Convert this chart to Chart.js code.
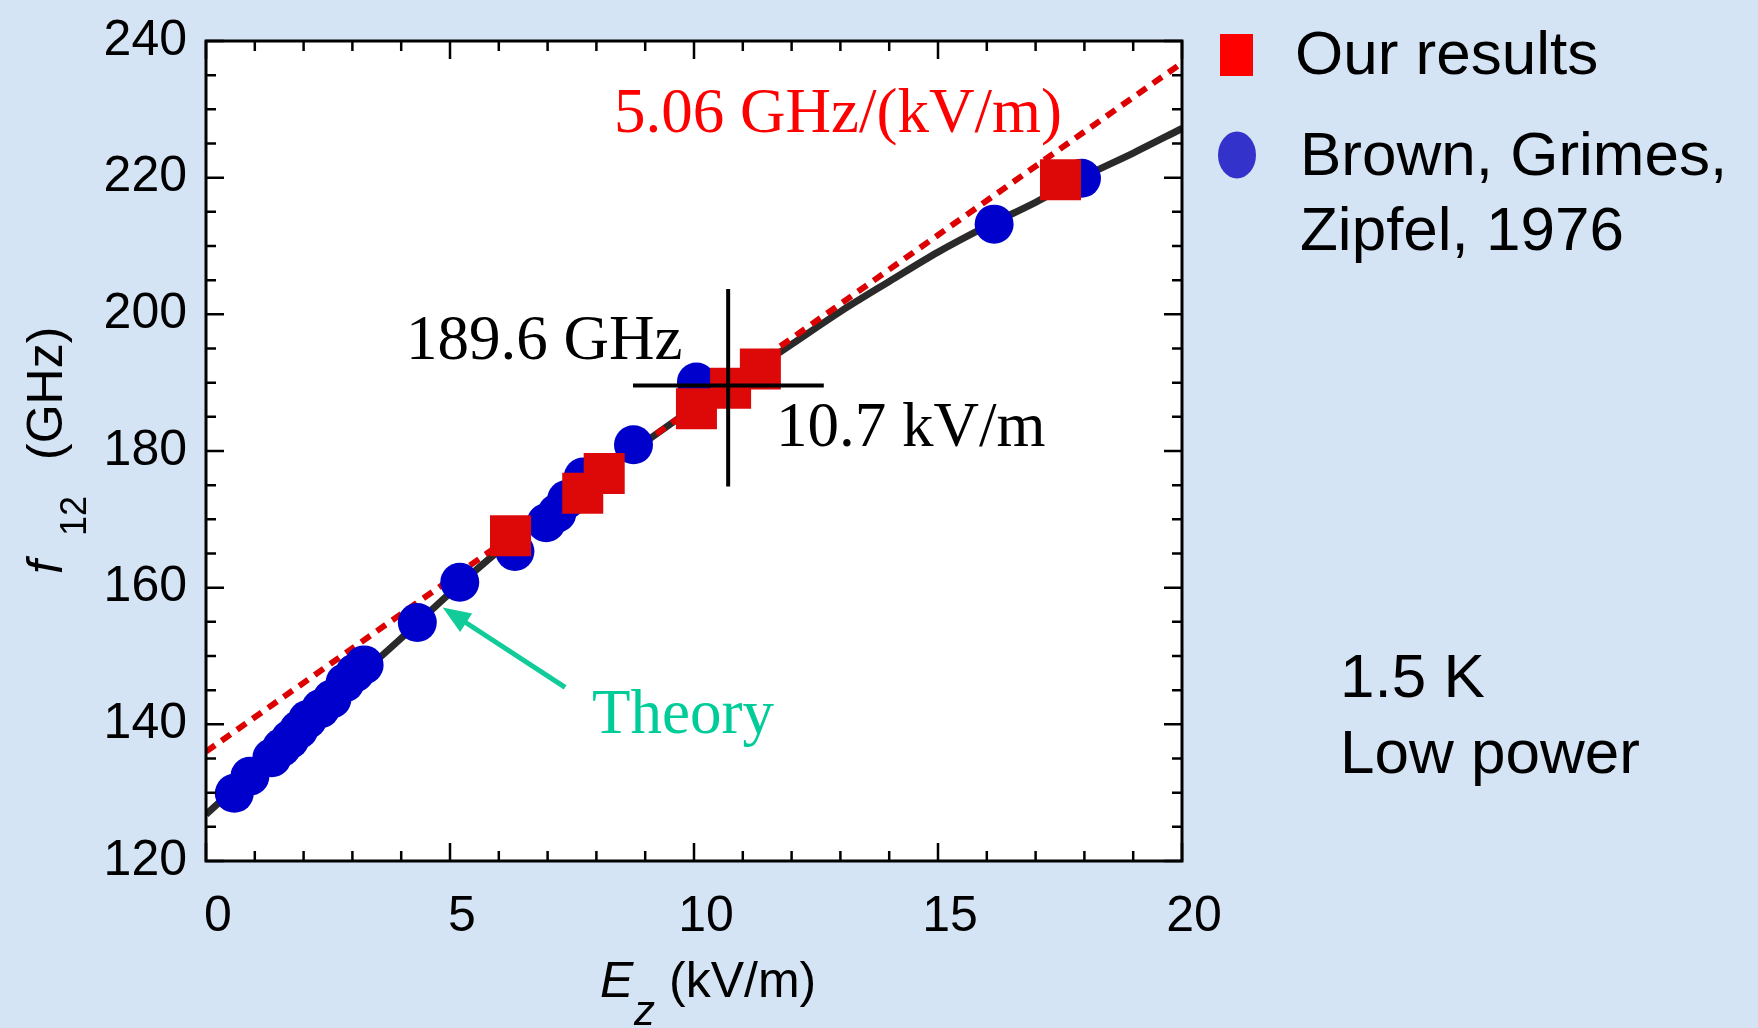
<!DOCTYPE html>
<html>
<head>
<meta charset="utf-8">
<script src="https://cdn.jsdelivr.net/npm/chart.js@4.4.1/dist/chart.umd.min.js"></script>
<style>
  html, body { margin: 0; padding: 0; background: #d5e4f5; }
  #wrap { width: 1758px; height: 1028px; position: relative; }
</style>
</head>
<body>
<div id="wrap"><canvas id="chart"></canvas></div>
<script>
// theory curve, f12 (GHz) vs Ez (kV/m)
var theoryE = [0, 1, 2, 3, 4, 5, 6, 7, 8, 9, 10, 11, 12, 13, 14, 15, 16, 17, 18, 19, 20];
var theoryF = [126.8, 133.3, 139.8, 146.2, 152.6, 159.2, 165.4, 171.0, 176.0, 181.3, 186.3, 190.8, 195.6, 200.4, 204.8, 209.1, 212.9, 216.4, 220.2, 223.6, 227.2];

// 5.06 GHz/(kV/m) line (red dotted)
var slopeE = [0, 20];
var slopeF = [136.0, 236.8];

// Our results (red squares)
var oursE = [6.24, 7.72, 8.16, 10.05, 10.75, 11.36, 17.51];
var oursF = [167.6, 173.8, 176.7, 186.2, 189.2, 192.0, 219.7];

// Brown, Grimes, Zipfel, 1976 (blue circles)
var brownE = [0.58, 0.90, 1.35, 1.55, 1.72, 1.90, 2.08, 2.35, 2.58, 2.85, 3.05, 3.24, 4.33, 5.20, 6.33, 6.97, 7.19, 7.39, 7.73, 8.76, 10.05, 16.15, 17.94];
var brownF = [129.9, 132.4, 135.1, 136.6, 137.8, 139.2, 140.7, 142.3, 143.7, 146.1, 147.5, 148.7, 154.9, 160.8, 165.3, 169.5, 170.9, 172.9, 176.2, 180.9, 190.1, 213.2, 219.9];

// crosshair at 10.7 kV/m, 189.6 GHz
var crossHE = [8.75, 12.66];
var crossHF = [189.6, 189.6];
var crossVE = [10.7, 10.7];
var crossVF = [174.8, 203.7];

// "Theory" arrow, tail -> tip
var arrowE = [7.36, 4.85];
var arrowF = [145.4, 157.1];

var xTicks = [0, 5, 10, 15, 20];
var yTicks = [120, 140, 160, 180, 200, 220, 240];
var xMinorStep = 1;
var yMinorStep = 5;

function pts(xs, ys) {
    return xs.map(function (x, i) { return { x: x, y: ys[i] }; });
}

var SANS = '"Liberation Sans", Arial, Helvetica, sans-serif';
var SERIF = '"Liberation Serif", "Times New Roman", serif';

var decorations = {
    id: 'decorations',
    beforeDatasetsDraw: function (chart) {
        var a = chart.chartArea, ctx = chart.ctx;
        ctx.save();
        ctx.fillStyle = '#ffffff';
        ctx.fillRect(a.left, a.top, a.right - a.left, a.bottom - a.top);
        ctx.restore();
    },
    afterDatasetsDraw: function (chart) {
        var ctx = chart.ctx, a = chart.chartArea;
        var xs = chart.scales.x, ys = chart.scales.y;
        ctx.save();

        // frame + inward ticks on all four sides
        ctx.strokeStyle = '#000';
        ctx.lineWidth = 3;
        ctx.strokeRect(a.left, a.top, a.right - a.left, a.bottom - a.top);
        ctx.lineWidth = 2.5;
        ctx.beginPath();
        for (var v = xs.min; v <= xs.max; v += xMinorStep) {
            var px = xs.getPixelForValue(v);
            var len = xTicks.indexOf(v) >= 0 ? 18 : 10;
            ctx.moveTo(px, a.bottom); ctx.lineTo(px, a.bottom - len);
            ctx.moveTo(px, a.top); ctx.lineTo(px, a.top + len);
        }
        for (var w = ys.min; w <= ys.max; w += yMinorStep) {
            var py = ys.getPixelForValue(w);
            var len2 = yTicks.indexOf(w) >= 0 ? 18 : 10;
            ctx.moveTo(a.left, py); ctx.lineTo(a.left + len2, py);
            ctx.moveTo(a.right, py); ctx.lineTo(a.right - len2, py);
        }
        ctx.stroke();

        // arrow pointing at the theory curve
        var x0 = xs.getPixelForValue(arrowE[0]), y0 = ys.getPixelForValue(arrowF[0]);
        var x1 = xs.getPixelForValue(arrowE[1]), y1 = ys.getPixelForValue(arrowF[1]);
        var ang = Math.atan2(y1 - y0, x1 - x0);
        var head = 28, half = 11;
        ctx.strokeStyle = '#11cc99';
        ctx.fillStyle = '#11cc99';
        ctx.lineWidth = 5;
        ctx.beginPath();
        ctx.moveTo(x0, y0);
        ctx.lineTo(x1 - Math.cos(ang) * head * 0.8, y1 - Math.sin(ang) * head * 0.8);
        ctx.stroke();
        ctx.beginPath();
        ctx.moveTo(x1, y1);
        ctx.lineTo(x1 - Math.cos(ang) * head - Math.sin(ang) * half, y1 - Math.sin(ang) * head + Math.cos(ang) * half);
        ctx.lineTo(x1 - Math.cos(ang) * head + Math.sin(ang) * half, y1 - Math.sin(ang) * head - Math.cos(ang) * half);
        ctx.closePath();
        ctx.fill();

        // annotation texts
        ctx.textAlign = 'left';
        ctx.textBaseline = 'alphabetic';
        ctx.font = '63px ' + SERIF;
        ctx.fillStyle = '#ff0000';
        ctx.fillText('5.06 GHz/(kV/m)', 614, 132);
        ctx.fillStyle = '#000000';
        ctx.fillText('189.6 GHz', 406, 359);
        ctx.fillText('10.7 kV/m', 776, 446);
        ctx.fillStyle = '#00cc99';
        ctx.fillText('Theory', 592, 733);

        // axis titles
        ctx.fillStyle = '#000';
        ctx.font = 'italic 50px ' + SANS;
        ctx.fillText('E', 600, 997);
        ctx.font = 'italic 42px ' + SANS;
        ctx.fillText('z', 634, 1025);
        ctx.font = '50px ' + SANS;
        ctx.fillText('(kV/m)', 669, 997);

        ctx.save();
        ctx.translate(62, 574);
        ctx.rotate(-Math.PI / 2);
        ctx.font = 'italic 50px ' + SANS;
        ctx.fillText('f', 0, 0);
        ctx.font = '36px ' + SANS;
        ctx.fillText('12', 38, 24);
        ctx.font = '50px ' + SANS;
        ctx.fillText('(GHz)', 114, 0);
        ctx.restore();

        // legend
        ctx.fillStyle = '#ff0000';
        ctx.fillRect(1220, 34, 33, 42);
        ctx.fillStyle = '#3333cc';
        ctx.beginPath();
        ctx.ellipse(1237, 155, 19, 23.5, 0, 0, Math.PI * 2);
        ctx.fill();
        ctx.fillStyle = '#000';
        ctx.font = '62px ' + SANS;
        ctx.fillText('Our results', 1295, 74);
        ctx.fillText('Brown, Grimes,', 1300, 175);
        ctx.fillText('Zipfel, 1976', 1300, 250);
        ctx.fillText('1.5 K', 1340, 697);
        ctx.fillText('Low power', 1340, 773);

        ctx.restore();
    }
};

var config = {
    type: 'scatter',
    data: {
        datasets: [{
            label: 'crosshair h',
            data: pts(crossHE, crossHF),
            showLine: true,
            borderColor: '#000',
            borderWidth: 4,
            pointRadius: 0
        }, {
            label: 'crosshair v',
            data: pts(crossVE, crossVF),
            showLine: true,
            borderColor: '#000',
            borderWidth: 4,
            pointRadius: 0
        }, {
            label: 'Our results',
            data: pts(oursE, oursF),
            pointStyle: 'rect',
            pointRadius: 29,
            backgroundColor: '#dd0808',
            borderWidth: 0
        }, {
            label: 'Brown, Grimes, Zipfel, 1976',
            data: pts(brownE, brownF),
            pointStyle: 'circle',
            pointRadius: 19.5,
            backgroundColor: '#0000cc',
            borderWidth: 0
        }, {
            label: '5.06 GHz/(kV/m)',
            data: pts(slopeE, slopeF),
            showLine: true,
            borderColor: '#dd0000',
            borderWidth: 6,
            borderDash: [11, 8],
            pointRadius: 0
        }, {
            label: 'Theory',
            data: pts(theoryE, theoryF),
            showLine: true,
            borderColor: '#2a2a2a',
            borderWidth: 7,
            cubicInterpolationMode: 'monotone',
            pointRadius: 0
        }]
    },
    options: {
        responsive: true,
        maintainAspectRatio: false,
        animation: false,
        events: [],
        layout: { padding: { top: 37, right: 576, left: 0, bottom: 0 } },
        plugins: {
            legend: { display: false },
            tooltip: { enabled: false }
        },
        scales: {
            x: {
                type: 'linear',
                position: 'bottom',
                min: 0,
                max: 20,
                grid: { display: false },
                border: { display: false },
                afterBuildTicks: function (s) { s.ticks = xTicks.map(function (v) { return { value: v }; }); },
                afterFit: function (s) { s.height = 167; },
                ticks: {
                    color: '#000',
                    font: { family: SANS, size: 50 },
                    padding: 18,
                    labelOffset: 12,
                    maxRotation: 0
                }
            },
            y: {
                type: 'linear',
                position: 'left',
                min: 120,
                max: 240,
                grid: { display: false },
                border: { display: false },
                afterBuildTicks: function (s) { s.ticks = yTicks.map(function (v) { return { value: v }; }); },
                afterFit: function (s) { s.width = 206; },
                ticks: {
                    color: '#000',
                    font: { family: SANS, size: 50 },
                    padding: 11
                }
            }
        }
    },
    plugins: [decorations]
};

var chart;
window.onload = function () {
    var ctx = document.getElementById('chart').getContext('2d');
    chart = new Chart(ctx, config);
};
</script>
</body>
</html>
